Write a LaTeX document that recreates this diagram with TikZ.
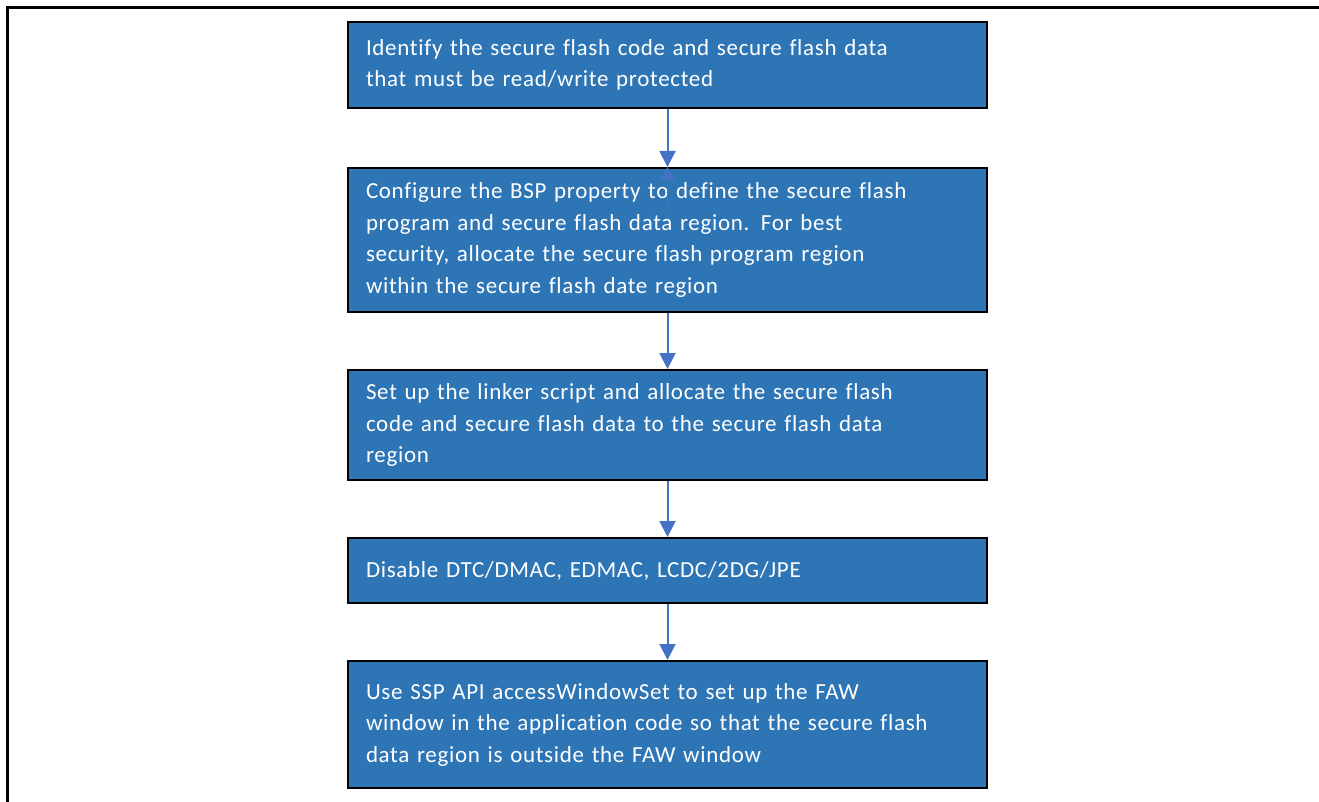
\documentclass[tikz,border=0pt]{standalone}
\usepackage{fontspec}
\setmainfont{Carlito}[LetterSpace=3, Ligatures=CommonOff]
\usetikzlibrary{arrows.meta}
\definecolor{boxblue}{HTML}{2E75B6}
\definecolor{arrblue}{HTML}{4472C4}
\begin{document}
\begin{tikzpicture}[x=1pt,y=-1pt,
  stepbox/.style={draw=black, line width=2pt, fill=boxblue, text=white,
    minimum width=639pt, inner sep=0pt, text width=603pt, align=left,
    font=\fontsize{23}{31.5}\selectfont},
  arr/.style={draw=arrblue, line width=2pt, -{Triangle[length=16pt,width=16pt]}},
  frame/.style={draw=black, line width=3pt}]
\useasboundingbox (0,0) rectangle (1319,802);
\coordinate (fa) at (7.5,802);
\coordinate (fb) at (7.5,7.5);
\coordinate (fc) at (1319,7.5);
\draw[frame] (fa) -- (fb) -- (fc);
\node[stepbox, minimum height=86pt] (b1) at (667.5,65)
  {Identify the secure flash code and secure flash data\\that must be read/write protected};
\node[stepbox, minimum height=144pt] (b2) at (667.5,240)
  {Configure the BSP property to define the secure flash\\program and secure flash data region. For best\\security, allocate the secure flash program region\\within the secure flash date region};
\node[stepbox, minimum height=110pt] (b3) at (667.5,425)
  {Set up the linker script and allocate the secure flash\\code and secure flash data to the secure flash data\\region};
\node[stepbox, minimum height=65pt] (b4) at (667.5,570.5)
  {Disable DTC/DMAC, EDMAC, LCDC/2DG/JPE};
\node[stepbox, minimum height=127pt] (b5) at (667.5,724.5)
  {Use SSP API accessWindowSet to set up the FAW\\window in the application code so that the secure flash\\data region is outside the FAW window};
\draw[arr] (b1.south) -- (b2.north);
\draw[arr] (b2.south) -- (b3.north);
\draw[arr] (b3.south) -- (b4.north);
\draw[arr] (b4.south) -- (b5.north);
\coordinate (g) at (667.5,212);
\draw[draw=arrblue, line width=1.5pt, -{Triangle[length=13pt,width=14pt]}] (g) -- (b2.north);
\end{tikzpicture}
\end{document}
